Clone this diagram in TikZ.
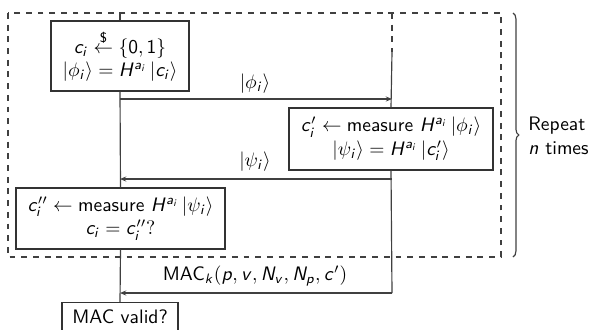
\documentclass[tikz,border=0pt]{standalone}
\usepackage{amsmath}
\usetikzlibrary{arrows.meta,decorations.pathreplacing}
\makeatletter
\DeclareSymbolFont{sfletters}{OT1}{cmss}{m}{sl}
\DeclareSymbolFont{sfdigits}{OT1}{cmss}{m}{n}
\newcount\mylc
\mylc=`a
\loop \mathcode\mylc=\numexpr "7000+\symsfletters*256+\mylc\relax
  \ifnum\mylc<`z \advance\mylc 1 \repeat
\mylc=`A
\loop \mathcode\mylc=\numexpr "7000+\symsfletters*256+\mylc\relax
  \ifnum\mylc<`Z \advance\mylc 1 \repeat
\mylc=`0
\loop \mathcode\mylc=\numexpr "7000+\symsfdigits*256+\mylc\relax
  \ifnum\mylc<`9 \advance\mylc 1 \repeat
\makeatother
\begin{document}
\begin{tikzpicture}[x=0.513pt,y=-0.513pt,
  font=\sffamily,
  ln/.style={draw=black!75,line width=0.6pt},
  arr/.style={ln,-{Stealth[length=3.2pt,width=2.6pt]}},
  box/.style={draw=black!80,line width=0.6pt,fill=white,align=center,inner sep=0pt},
  lbl/.style={inner sep=0pt}]
\useasboundingbox (0,0) rectangle (592,329);
% frame and brace
\coordinate (ftl) at (8,13);
\coordinate (fbr) at (501,257);
\draw[ln,dashed] (ftl) rectangle (fbr);
\coordinate (bt) at (513,13);
\coordinate (bb) at (513,257);
\draw[ln,decorate,decoration={brace,amplitude=3pt}] (bt) -- (bb);
\node[align=left,anchor=west,inner sep=0pt] (rep) at (528,136) {Repeat\\$n$ times};
% boxes
\node[box,minimum width=70.8pt,minimum height=35.9pt] (b1) at (120,56)
  {$c_i \overset{\text{\$}}{\leftarrow} \{0,1\}$\\$\left|\phi_i\right\rangle = H^{a_i}\left|c_i\right\rangle$};
\node[box,minimum width=104.7pt,minimum height=31.8pt] (b2) at (391,139)
  {$c_i' \leftarrow \text{measure } H^{a_i}\left|\phi_i\right\rangle$\\$\left|\psi_i\right\rangle = H^{a_i}\left|c_i'\right\rangle$};
\node[box,minimum width=107.2pt,minimum height=31.3pt] (b3) at (120.5,218.5)
  {$c_i'' \leftarrow \text{measure } H^{a_i}\left|\psi_i\right\rangle$\\$c_i = c_i''?$};
\node[box,minimum width=59.5pt,minimum height=14.6pt,anchor=north] (b4) at (120,302)
  {MAC valid?};
% lifelines
\coordinate (ltop) at (120,13);
\coordinate (rdash) at (392,13);
\coordinate (rtop) at (392,52);
\coordinate (r1) at (392,99);
\coordinate (r2) at (392,179);
\coordinate (rbot) at (392,293);
\draw[ln] (ltop) -- (b1.north);
\draw[ln] (b1.south) -- (b3.north);
\draw[ln] (b3.south) -- (b4.north);
\draw[ln,dashed] (rdash) -- (rtop);
\draw[ln] (rtop) -- (b2.north);
\draw[ln] (b2.south) -- (rbot);
% messages
\draw[arr] (b1.south |- r1) -- (r1);
\draw[arr] (r2) -- (b1.south |- r2);
\draw[arr] (rbot) -- (b1.south |- rbot);
\node[lbl] (m1) at (255,84) {$\left|\phi_i\right\rangle$};
\node[lbl] (m2) at (255,162) {$\left|\psi_i\right\rangle$};
\node[lbl] (m3) at (255,276) {$\mathsf{MAC}_k(p,v,N_v,N_p,c')$};
\end{tikzpicture}
\end{document}
